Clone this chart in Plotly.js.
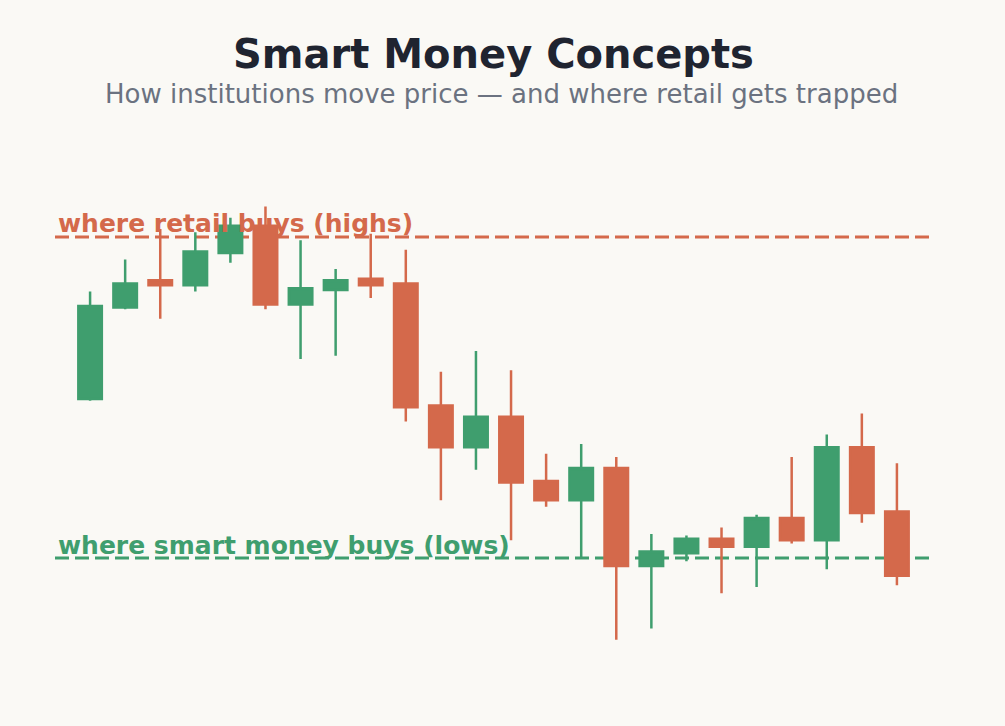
<!DOCTYPE html>
<html>
<head>
<meta charset="utf-8">
<script src="https://cdn.plot.ly/plotly-3.0.1.min.js"></script>
<style>
html,body{margin:0;padding:0;background:#faf9f5;}
#chart{width:1005px;height:726px;}
</style>
</head>
<body>
<div id="chart"></div>
<script>
// Data
const candleIndex = [0,1,2,3,4,5,6,7,8,9,10,11,12,13,14,15,16,17,18,19,20,21,22,23];
const openVals  = [109.9,115.6,117.3,117.0,119.0,120.7,115.8,116.7,117.4,117.1,109.5,106.9,108.8,104.8,103.6,105.6,99.5,100.3,101.2,100.7,102.5,101.1,106.9,102.9];
const highVals  = [116.6,118.6,120.5,120.3,121.2,121.9,119.8,118.0,120.2,119.2,111.6,112.9,111.7,106.5,107.1,106.3,101.5,101.4,101.9,102.7,106.3,107.7,109.0,105.9];
const lowVals   = [109.8,115.5,114.9,116.6,118.4,115.5,112.4,112.6,116.2,108.5,103.6,105.5,101.1,103.2,100.0,94.9,95.6,99.8,97.8,98.2,100.9,99.3,102.2,98.3];
const closeVals = [115.7,117.1,117.0,119.1,120.7,115.8,116.8,117.3,117.0,109.4,106.9,108.8,104.7,103.6,105.6,99.5,100.4,101.2,100.7,102.5,101.1,106.9,102.8,98.9];
const retailLevel = 120;
const smartLevel = 100;
const titleText = "Smart Money Concepts";
const subtitleText = "How institutions move price — and where retail gets trapped";
const retailLabel = "where retail buys (highs)";
const smartLabel = "where smart money buys (lows)";

const GREEN = "#3f9e6e";
const RED = "#d4694b";
const BG = "#faf9f5";
const FONT = "DejaVu Sans, sans-serif";

const trace = {
  type: "candlestick",
  x: candleIndex,
  open: openVals, high: highVals, low: lowVals, close: closeVals,
  increasing: {line: {color: GREEN, width: 2.5}, fillcolor: GREEN},
  decreasing: {line: {color: RED, width: 2.5}, fillcolor: RED},
  whiskerwidth: 0,
  hoverinfo: "skip",
  showlegend: false
};

const pxPerUnit = 16.05;
const layout = {
  width: 1005, height: 726,
  paper_bgcolor: BG, plot_bgcolor: BG,
  margin: {l: 55, r: 73, t: 130, b: 60},
  boxgap: 0.33, boxgroupgap: 0,
  showlegend: false,
  font: {family: FONT},
  title: {
    text: "<b>" + titleText + "</b>",
    font: {family: FONT, size: 40, color: "#1f2430"},
    x: 0.5, xanchor: "center",
    xref: "paper",
    yref: "container", y: 1 - 54/726, yanchor: "middle"
  },
  xaxis: {visible: false, range: [-1, 24], fixedrange: true, rangeslider: {visible: false}},
  yaxis: {visible: false, range: [100 - 108/pxPerUnit, 100 + 428/pxPerUnit], fixedrange: true},
  shapes: [
    {type: "line", xref: "paper", x0: 0, x1: 1, yref: "y", y0: retailLevel, y1: retailLevel,
     line: {color: RED, width: 3.2, dash: "14px,6px"}, layer: "below"},
    {type: "line", xref: "paper", x0: 0, x1: 1, yref: "y", y0: smartLevel, y1: smartLevel,
     line: {color: GREEN, width: 3.2, dash: "14px,6px"}, layer: "below"}
  ],
  annotations: [
    {text: subtitleText, xref: "paper", x: (502 - 55)/877, xanchor: "center",
     yref: "paper", y: (666 - 94)/536, yanchor: "middle", showarrow: false,
     font: {family: FONT, size: 26, color: "#6b7280"}},
    {text: "<b>" + retailLabel + "</b>", xref: "paper", x: 1/877, xanchor: "left",
     yref: "y", y: retailLevel + 14/pxPerUnit, yanchor: "middle", showarrow: false,
     font: {family: FONT, size: 25, color: RED}},
    {text: "<b>" + smartLabel + "</b>", xref: "paper", x: 1/877, xanchor: "left",
     yref: "y", y: smartLevel + 13/pxPerUnit, yanchor: "middle", showarrow: false,
     font: {family: FONT, size: 25, color: GREEN}}
  ]
};

Plotly.newPlot("chart", [trace], layout, {displayModeBar: false, staticPlot: true});
</script>
</body>
</html>
